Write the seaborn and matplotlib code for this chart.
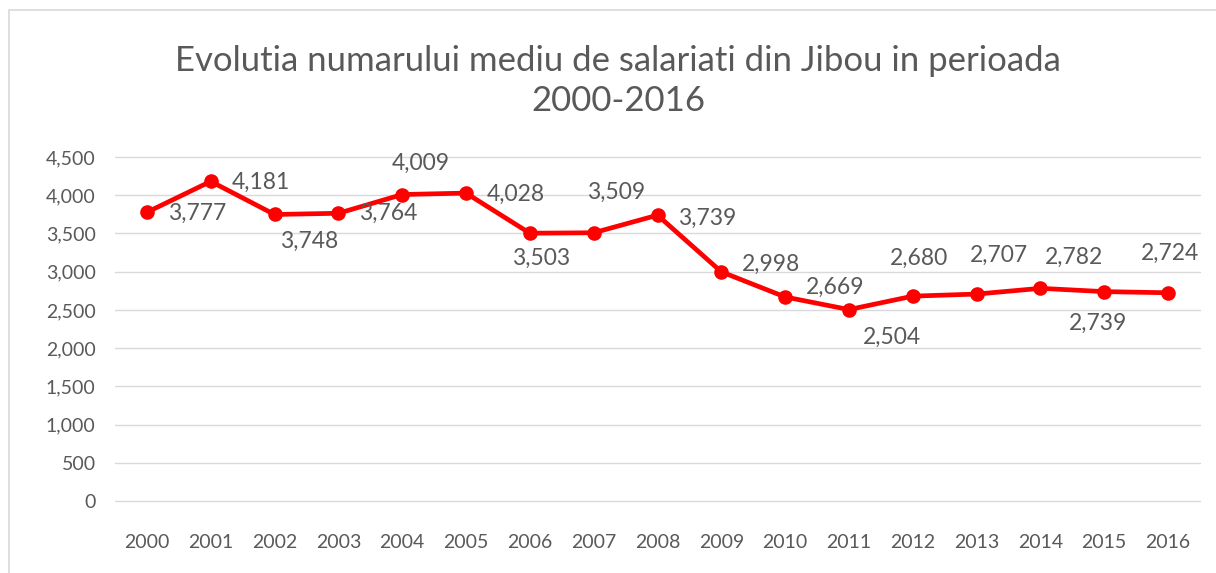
import matplotlib

matplotlib.use("Agg")
import matplotlib.pyplot as plt
import numpy as np
import seaborn as sns
from matplotlib.patches import Rectangle

YEARS = [str(y) for y in range(2000, 2017)]
EMPLOYEES = [3777, 4181, 3748, 3764, 4009, 4028, 3503, 3509, 3739,
             2998, 2669, 2504, 2680, 2707, 2782, 2739, 2724]
Y_TICKS = [0, 500, 1000, 1500, 2000, 2500, 3000, 3500, 4000, 4500]
TITLE = "Evolutia numarului mediu de salariati din Jibou in perioada\n2000-2016"

# label offsets in pixels (dx, dy) and horizontal alignment, like the Excel chart
LABEL_POS = [
    (21, -1, "left"), (21, -1, "left"), (35, -27, "center"), (21, 0, "left"),
    (19, 31, "center"), (21, -1, "left"), (11, -25, "center"), (22, 40, "center"),
    (21, -3, "left"), (21, 7, "left"), (21, 10, "left"), (43, -28, "center"),
    (6, 38, "center"), (22, 39, "center"), (34, 31, "center"), (-6, -32, "center"),
    (2, 39, "center"),
]

GREY = "#595959"

sns.set_theme(style="white")
plt.rcParams["font.family"] = ["Lato", "DejaVu Sans"]

fig = plt.figure(figsize=(12.16, 5.73), dpi=100)
ax = fig.add_axes([115 / 1216, 1 - 501 / 573, 1085 / 1216, 344 / 573])
fig.patches.append(Rectangle((9 / 1216, -0.1), 1.2, 1 - 10 / 573 + 0.1,
                             transform=fig.transFigure, fill=False,
                             edgecolor="#D9D9D9", linewidth=1.2))

x = np.arange(len(YEARS))
sns.lineplot(x=x, y=EMPLOYEES, ax=ax, color="#FF0000", linewidth=3.4,
             marker="o", markersize=10.5, markeredgewidth=0)

for xi, v, (dx, dy, ha) in zip(x, EMPLOYEES, LABEL_POS):
    ax.annotate(f"{v:,}", (xi, v), xytext=(dx * 0.72, dy * 0.72),
                textcoords="offset points", ha=ha, va="center",
                fontsize=16.5, color=GREY)

ax.set_xlim(-0.5, len(YEARS) - 0.5)
ax.set_ylim(0, 4500)
ax.set_xticks(x, YEARS)
ax.set_yticks(Y_TICKS, [f"{t:,}" for t in Y_TICKS])
ax.grid(axis="y", color="#D9D9D9", linewidth=1)
for gl in ax.get_ygridlines():
    gl.set_clip_on(False)
ax.set_axisbelow(True)
for s in ax.spines.values():
    s.set_visible(False)
ax.tick_params(axis="both", length=0, labelsize=14, labelcolor=GREY)
ax.tick_params(axis="x", pad=24)
ax.tick_params(axis="y", pad=14)

fig.text(618 / 1216, 1 - 81 / 573, TITLE, ha="center", va="center",
         fontsize=25, color=GREY, linespacing=1.32)

fig.savefig("out.png", dpi=100)
